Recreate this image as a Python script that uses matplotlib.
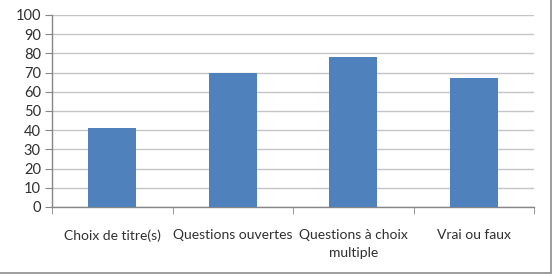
import matplotlib
matplotlib.use('Agg')
import matplotlib.pyplot as plt
from matplotlib.patches import Rectangle

plt.rcParams['font.family'] = ['Lato', 'DejaVu Sans']

categories = ['Choix de titre(s)', 'Questions ouvertes', 'Questions à choix\nmultiple', 'Vrai ou faux']
values = [41, 70, 78, 67]
yticks = list(range(0, 101, 10))

BAR_COLOR = '#4f81bd'
GRID_COLOR = '#c4c4c4'
AXIS_COLOR = '#868686'
TEXT_COLOR = '#303030'

fig = plt.figure(figsize=(5.55, 2.77), dpi=100, facecolor='white')
ax = fig.add_axes([52 / 555, 1 - 207 / 277, (534 - 52) / 555, (207 - 15) / 277])

x = list(range(len(categories)))
ax.bar(x, values, width=0.4, color=BAR_COLOR, zorder=3)

ax.set_xlim(-0.5, len(categories) - 0.5)
ax.set_ylim(0, 100)
ax.set_yticks(yticks)
ax.yaxis.grid(True, color=GRID_COLOR, linewidth=1, zorder=0)

ax.set_xticks(x)
ax.set_xticklabels(categories, fontsize=10, color=TEXT_COLOR, linespacing=1.6)
ax.set_xticks([i - 0.5 for i in range(len(categories) + 1)], minor=True)
ax.tick_params(axis='x', which='major', length=0, pad=16)
ax.tick_params(axis='x', which='minor', length=5, color=AXIS_COLOR, direction='out')
ax.tick_params(axis='y', length=5, color=AXIS_COLOR, labelsize=10.5, labelcolor=TEXT_COLOR, pad=3)

for s in ['top', 'right']:
    ax.spines[s].set_visible(False)
for s in ['left', 'bottom']:
    ax.spines[s].set_color(AXIS_COLOR)
    ax.spines[s].set_linewidth(1)

# outer chart border
fig.patches.append(Rectangle((-0.01, 1 - 273 / 277), 551 / 555 + 0.01, 273 / 277 + 0.01,
                             transform=fig.transFigure, fill=False, edgecolor='#8c8c8c', linewidth=1.2))

plt.savefig('out.png', dpi=100)
